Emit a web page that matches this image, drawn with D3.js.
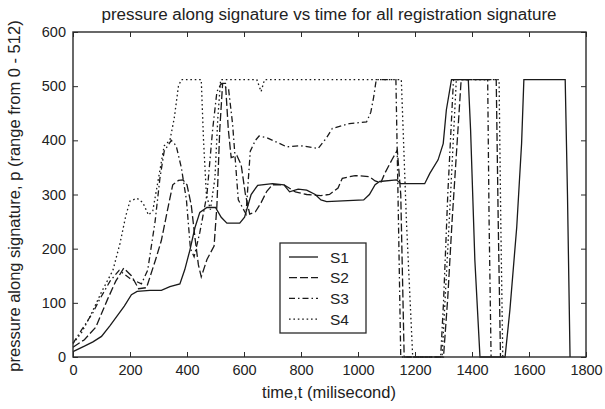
<!DOCTYPE html>
<html>
<head>
<meta charset="utf-8">
<script src="https://cdn.jsdelivr.net/npm/d3@7"></script>
<style>
  body { margin: 0; background: #fff; }
  text { font-family: "Liberation Sans", Arial, sans-serif; fill: #222; }
</style>
</head>
<body>
<div id="chart"></div>
<script>
// 시간축 (ms) / 압력값
var s1T = [0, 40, 70, 100, 130, 155, 180, 205, 225, 270, 310, 340, 375, 392, 410, 428, 445, 470, 500, 520, 540, 585, 602, 625, 648, 700, 740, 760, 790, 820, 850, 870, 890, 1020, 1040, 1060, 1076, 1135, 1150, 1234, 1252, 1281, 1299, 1310, 1328, 1387, 1395, 1410, 1428, 1516, 1533, 1557, 1574, 1582, 1727, 1735, 1744];
var s1P = [10, 20, 28, 38, 58, 76, 94, 115, 121, 123, 123, 130, 135, 161, 197, 239, 267, 276, 276, 258, 247, 247, 258, 300, 317, 320, 318, 305, 310, 308, 300, 290, 287, 290, 300, 318, 324, 327, 320, 320, 339, 364, 394, 456, 512, 512, 420, 179, 0, 0, 87, 240, 394, 512, 512, 300, 0];

var s2T = [0, 40, 80, 120, 150, 178, 205, 230, 258, 290, 310, 335, 350, 370, 386, 400, 415, 428, 440, 450, 470, 495, 505, 515, 525, 535, 545, 555, 575, 590, 605, 620, 640, 660, 680, 700, 740, 780, 820, 870, 900, 930, 945, 990, 1040, 1060, 1080, 1095, 1120, 1138, 1150, 1162, 1300, 1315, 1330, 1362, 1485, 1492, 1500];
var s2P = [18, 32, 55, 105, 140, 164, 150, 126, 128, 180, 215, 280, 318, 326, 327, 318, 280, 220, 170, 148, 180, 205, 280, 420, 505, 505, 420, 368, 372, 355, 300, 264, 268, 285, 306, 318, 318, 305, 300, 298, 300, 312, 330, 335, 333, 325, 322, 340, 365, 382, 300, 0, 0, 110, 250, 512, 512, 250, 0];

var s3T = [0, 30, 70, 92, 130, 162, 200, 240, 262, 288, 305, 320, 345, 362, 380, 398, 412, 425, 445, 470, 490, 505, 520, 546, 560, 580, 607, 622, 640, 653, 680, 750, 800, 860, 890, 910, 970, 1030, 1045, 1055, 1064, 1133, 1142, 1150, 1290, 1300, 1315, 1335, 1455, 1460, 1467];
var s3P = [25, 50, 82, 105, 140, 160, 145, 135, 160, 250, 330, 380, 400, 390, 350, 290, 200, 185, 230, 300, 420, 490, 505, 494, 430, 290, 264, 380, 400, 408, 405, 388, 390, 385, 405, 422, 431, 434, 452, 480, 512, 512, 250, 0, 0, 100, 300, 512, 512, 250, 0];

var s4T = [0, 30, 60, 100, 140, 165, 185, 200, 225, 245, 265, 280, 300, 320, 340, 355, 370, 380, 450, 458, 468, 482, 498, 508, 518, 645, 660, 672, 1152, 1170, 1192, 1295, 1320, 1345, 1495, 1501, 1508];
var s4P = [25, 45, 75, 120, 160, 210, 260, 288, 293, 285, 262, 270, 330, 390, 400, 440, 500, 512, 512, 400, 300, 272, 330, 440, 512, 512, 490, 512, 512, 250, 0, 0, 250, 512, 512, 250, 0];

var xTicks = [0, 200, 400, 600, 800, 1000, 1200, 1400, 1600, 1800];
var yTicks = [0, 100, 200, 300, 400, 500, 600];
var seriesNames = ["S1", "S2", "S3", "S4"];

var W = 605, H = 409;
var padL = 73, padR = 586, padT = 32, padB = 357;

var svg = d3.select("#chart").append("svg")
    .attr("width", W).attr("height", H);

var x = d3.scaleLinear().domain([0, 1800]).range([padL, padR]);
var y = d3.scaleLinear().domain([0, 600]).range([padB, padT]);

// 선 스타일
var dashes = ["none", "8,3", "6,3,1.5,3", "1.6,2.8"];
var series = [
  {T: s1T, P: s1P},
  {T: s2T, P: s2P},
  {T: s3T, P: s3P},
  {T: s4T, P: s4P}
];

var line = d3.line()
    .x(function(d) { return x(d[0]); })
    .y(function(d) { return y(d[1]); });

series.forEach(function(s, i) {
  var pts = s.T.map(function(t, j) { return [t, s.P[j]]; });
  svg.append("path")
     .datum(pts)
     .attr("fill", "none")
     .attr("stroke", "#1a1a1a")
     .attr("stroke-width", 1.3)
     .attr("stroke-dasharray", dashes[i])
     .attr("d", line);
});

// 축
var axisColor = "#2a2a2a";
var tickFont = 14.5;
svg.append("g")
   .attr("transform", "translate(0," + padB + ")")
   .call(d3.axisBottom(x).tickValues(xTicks).tickSize(-5).tickPadding(8).tickFormat(d3.format("d")))
   .call(function(g) {
     g.select(".domain").remove();
     g.selectAll("line").attr("stroke", axisColor);
     g.selectAll("text").attr("font-size", tickFont).style("font-family", "Liberation Sans, Arial").attr("fill", "#222");
   });
svg.append("g")
   .attr("transform", "translate(0," + padT + ")")
   .call(d3.axisTop(x).tickValues(xTicks).tickSize(-5).tickFormat(""))
   .call(function(g) { g.select(".domain").remove(); g.selectAll("line").attr("stroke", axisColor); });
svg.append("g")
   .attr("transform", "translate(" + padL + ",0)")
   .call(d3.axisLeft(y).tickValues(yTicks).tickSize(-5).tickPadding(7))
   .call(function(g) {
     g.select(".domain").remove();
     g.selectAll("line").attr("stroke", axisColor);
     g.selectAll("text").attr("font-size", tickFont).style("font-family", "Liberation Sans, Arial").attr("fill", "#222");
   });
svg.append("g")
   .attr("transform", "translate(" + padR + ",0)")
   .call(d3.axisRight(y).tickValues(yTicks).tickSize(-5).tickFormat(""))
   .call(function(g) { g.select(".domain").remove(); g.selectAll("line").attr("stroke", axisColor); });

svg.append("rect")
   .attr("x", padL).attr("y", padT)
   .attr("width", padR - padL).attr("height", padB - padT)
   .attr("fill", "none").attr("stroke", axisColor).attr("stroke-width", 1.4);

// 제목, 라벨
svg.append("text")
   .attr("x", 329).attr("y", 20)
   .attr("text-anchor", "middle").attr("font-size", 16)
   .attr("textLength", 455).attr("lengthAdjust", "spacingAndGlyphs")
   .text("pressure along signature vs time for all registration signature");
svg.append("text")
   .attr("x", 329).attr("y", 398)
   .attr("text-anchor", "middle").attr("font-size", 16.5)
   .text("time,t (milisecond)");
svg.append("text")
   .attr("transform", "translate(20,196) rotate(-90)")
   .attr("text-anchor", "middle").attr("font-size", 16.5)
   .text("pressure along signature, p (range from 0 - 512)");

// 범례
var lg = svg.append("g");
lg.append("rect")
  .attr("x", 280).attr("y", 243).attr("width", 86).attr("height", 90)
  .attr("fill", "#fff").attr("stroke", axisColor).attr("stroke-width", 1.3);
seriesNames.forEach(function(name, i) {
  var yy = 257 + i * 20.7;
  lg.append("line")
    .attr("x1", 289).attr("x2", 318).attr("y1", yy).attr("y2", yy)
    .attr("stroke", "#1a1a1a").attr("stroke-width", 1.3)
    .attr("stroke-dasharray", dashes[i]);
  lg.append("text")
    .attr("x", 330).attr("y", yy + 5.5)
    .attr("font-size", 15.5)
    .text(name);
});
</script>
</body>
</html>
